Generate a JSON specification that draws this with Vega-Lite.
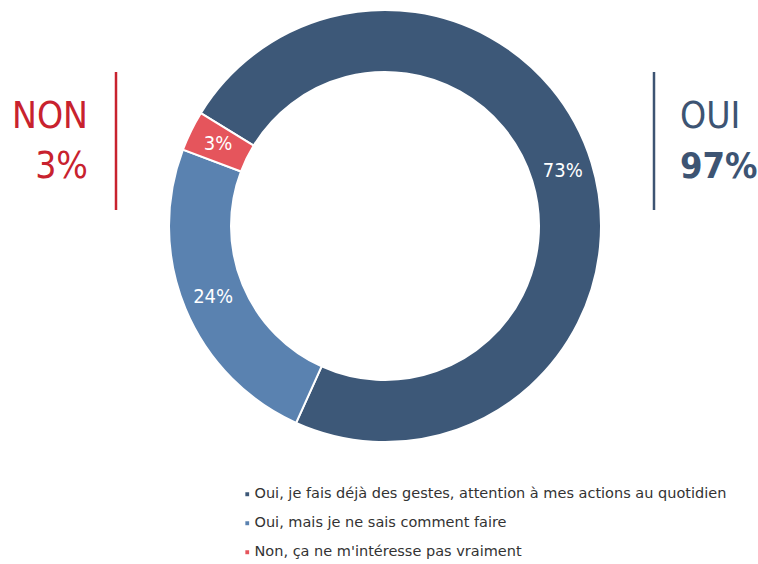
{
  "$schema": "https://vega.github.io/schema/vega-lite/v6.json",
  "width": 746,
  "height": 452,
  "padding": {"left": 12, "top": 0, "right": 0, "bottom": 112},
  "autosize": "none",
  "background": "white",
  "config": {"view": {"stroke": null}, "font": "DejaVu Sans Condensed"},
  "layer": [
    {
      "data": {"name": "slices", "values": [
        {"answer": "Oui, je fais déjà des gestes, attention à mes actions au quotidien", "pct": 73, "rank": 1, "label": "73%"},
        {"answer": "Oui, mais je ne sais comment faire", "pct": 24, "rank": 2, "label": "24%"},
        {"answer": "Non, ça ne m'intéresse pas vraiment", "pct": 3, "rank": 3, "label": "3%"}
      ]},
      "layer": [
        {
          "mark": {"type": "arc", "outerRadius": 216, "innerRadius": 154, "stroke": "white", "strokeWidth": 2},
          "encoding": {
            "theta": {"field": "pct", "type": "quantitative", "stack": true, "scale": {"range": [-1.0210, 5.2622]}},
            "order": {"field": "rank", "type": "ordinal"},
            "color": {
              "field": "answer", "type": "nominal",
              "scale": {
                "domain": ["Oui, je fais déjà des gestes, attention à mes actions au quotidien", "Oui, mais je ne sais comment faire", "Non, ça ne m'intéresse pas vraiment"],
                "range": ["#3d5878", "#5a82b0", "#e5555c"]
              },
              "legend": {
                "orient": "none", "legendX": 228, "legendY": 487, "title": null,
                "symbolType": "square", "symbolSize": 28, "labelFontSize": 14.5,
                "labelColor": "#333333", "rowPadding": 14, "labelOffset": 0, "labelLimit": 600,
                "labelFont": "DejaVu Sans"
              }
            }
          }
        },
        {
          "mark": {"type": "text", "radius": 186, "color": "white", "fontSize": 20, "font": "DejaVu Sans Condensed"},
          "encoding": {
            "theta": {"field": "pct", "type": "quantitative", "stack": true, "scale": {"range": [-1.0210, 5.2622]}},
            "order": {"field": "rank", "type": "ordinal"},
            "text": {"field": "label"}
          }
        }
      ]
    },
    {
      "data": {"name": "annot", "values": [
        {"side": "NON", "kind": "text", "row": 1, "txt": "NON", "bold": "n"},
        {"side": "NON", "kind": "text", "row": 2, "txt": "3%", "bold": "n"},
        {"side": "OUI", "kind": "text", "row": 1, "txt": "OUI", "bold": "n"},
        {"side": "OUI", "kind": "text", "row": 2, "txt": "97%", "bold": "y"},
        {"side": "NON", "kind": "rule", "row": 0.11, "row2": 2.87},
        {"side": "OUI", "kind": "rule", "row": 0.11, "row2": 2.87}
      ]},
      "layer": [
        {
          "transform": [{"filter": "datum.kind == 'rule'"}],
          "mark": {"type": "rule", "strokeWidth": 2.5},
          "encoding": {
            "x": {"field": "side", "type": "nominal", "scale": {"type": "point", "domain": ["NON", "OUI"], "range": [104, 642], "padding": 0}, "axis": null},
            "y": {"field": "row", "type": "quantitative", "scale": {"domain": [0, 1], "range": [66.5, 116.5], "zero": false, "nice": false}, "axis": null},
            "y2": {"field": "row2"},
            "color": {"field": "side", "type": "nominal", "scale": {"domain": ["NON", "OUI"], "range": ["#c8222e", "#3d5473"]}, "legend": null}
          }
        },
        {
          "transform": [{"filter": "datum.kind == 'text' && datum.side == 'NON'"}],
          "mark": {"type": "text", "align": "right", "baseline": "middle", "dx": -28, "fontSize": 37, "font": "DejaVu Sans Condensed"},
          "encoding": {
            "x": {"field": "side", "type": "nominal", "scale": {"type": "point", "domain": ["NON", "OUI"], "range": [104, 642], "padding": 0}, "axis": null},
            "y": {"field": "row", "type": "quantitative", "scale": {"domain": [0, 1], "range": [66.5, 116.5], "zero": false, "nice": false}, "axis": null},
            "text": {"field": "txt"},
            "color": {"field": "side", "type": "nominal", "scale": {"domain": ["NON", "OUI"], "range": ["#c8222e", "#3d5473"]}, "legend": null}
          }
        },
        {
          "transform": [{"filter": "datum.kind == 'text' && datum.side == 'OUI' && datum.bold == 'n'"}],
          "mark": {"type": "text", "align": "left", "baseline": "middle", "dx": 26, "fontSize": 37, "font": "DejaVu Sans Condensed"},
          "encoding": {
            "x": {"field": "side", "type": "nominal", "scale": {"type": "point", "domain": ["NON", "OUI"], "range": [104, 642], "padding": 0}, "axis": null},
            "y": {"field": "row", "type": "quantitative", "scale": {"domain": [0, 1], "range": [66.5, 116.5], "zero": false, "nice": false}, "axis": null},
            "text": {"field": "txt"},
            "color": {"field": "side", "type": "nominal", "scale": {"domain": ["NON", "OUI"], "range": ["#c8222e", "#3d5473"]}, "legend": null}
          }
        },
        {
          "transform": [{"filter": "datum.kind == 'text' && datum.side == 'OUI' && datum.bold == 'y'"}],
          "mark": {"type": "text", "align": "left", "baseline": "middle", "dx": 26, "fontSize": 36, "fontWeight": "bold", "font": "DejaVu Sans Condensed"},
          "encoding": {
            "x": {"field": "side", "type": "nominal", "scale": {"type": "point", "domain": ["NON", "OUI"], "range": [104, 642], "padding": 0}, "axis": null},
            "y": {"field": "row", "type": "quantitative", "scale": {"domain": [0, 1], "range": [66.5, 116.5], "zero": false, "nice": false}, "axis": null},
            "text": {"field": "txt"},
            "color": {"field": "side", "type": "nominal", "scale": {"domain": ["NON", "OUI"], "range": ["#c8222e", "#3d5473"]}, "legend": null}
          }
        }
      ]
    }
  ],
  "resolve": {"scale": {"color": "independent"}}
}
